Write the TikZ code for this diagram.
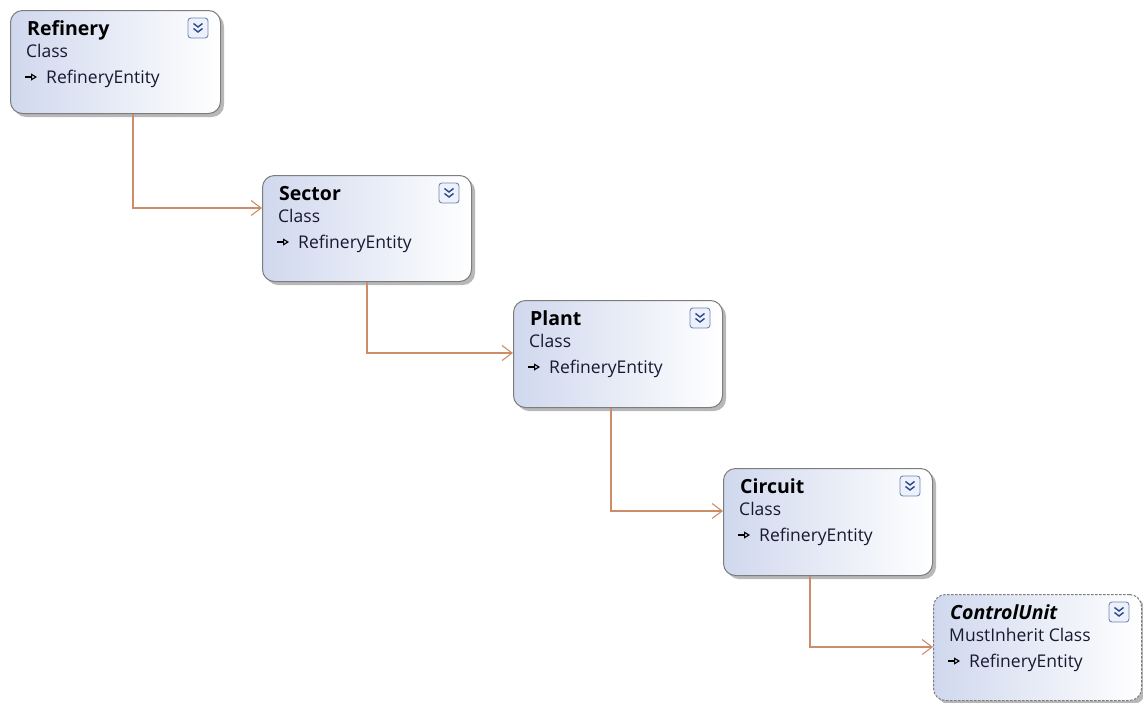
\documentclass[tikz,border=0pt]{standalone}
\usepackage{fontspec}
\setmainfont{Open Sans}
\usetikzlibrary{calc,shadows,arrows.meta}

\definecolor{boxleft}{RGB}{208,216,238}
\definecolor{boxborder}{RGB}{125,125,125}
\definecolor{linkcol}{RGB}{204,140,106}
\definecolor{iconedge}{RGB}{112,136,182}
\definecolor{iconfill}{RGB}{236,241,251}
\definecolor{chevroncol}{RGB}{45,72,140}
\definecolor{textcol}{RGB}{24,24,48}

\tikzset{
  classbox/.style={draw=boxborder, line width=1pt, rounded corners=12pt,
    left color=boxleft, right color=white, inner sep=0pt,
    drop shadow={shadow xshift=3.5pt, shadow yshift=-3.5pt, fill=black, opacity=0.28}},
  abstractbox/.style={classbox, dashed, dash pattern=on 2.5pt off 1.5pt},
  titletext/.style={anchor=base west, inner sep=0pt, font=\fontsize{19.5}{22}\selectfont\bfseries, text=black},
  kindtext/.style={anchor=base west, inner sep=0pt, font=\fontsize{17.5}{20}\selectfont, text=textcol},
  iconbox/.style={draw=iconedge, line width=0.9pt, fill=iconfill, rounded corners=3pt,
    minimum width=20pt, minimum height=20pt, inner sep=0pt},
  chevron/.style={draw=chevroncol, line width=1.4pt},
  baseglyph/.style={draw=black, line width=1.1pt, -{Triangle[open, length=6pt, width=7pt, line width=1.1pt]}},
  link/.style={draw=linkcol, line width=1.1pt, -{Straight Barb[length=10pt, width=15pt, line width=1.1pt]}}
}

% class shape: name, x, y (top left), width, height, title, kind, box style
\newcommand{\umlclass}[8]{%
  \node[#8, minimum width=#4pt, minimum height=#5pt, anchor=north west] (#1) at (#2,#3) {};
  \node[titletext] (#1-title) at ($(#1.north west)+(17,25)$) {#6};
  \node[kindtext] (#1-kind) at ($(#1.north west)+(16,47)$) {#7};
  \draw[baseglyph] ($(#1.north west)+(15,67)$) -- ++(12,0);
  \node[kindtext] (#1-base) at ($(#1.north west)+(36,73)$) {RefineryEntity};
  \node[iconbox] (#1-icon) at ($(#1.north east)+(-23,18)$) {};
  \draw[chevron] ($(#1-icon.center)+(-4.5,-4.5)$) -- ++(4.5,3.5) -- ++(4.5,-3.5);
  \draw[chevron] ($(#1-icon.center)+(-4.5,0.5)$) -- ++(4.5,3.5) -- ++(4.5,-3.5);
}

\begin{document}
\begin{tikzpicture}[x=1pt, y=-1pt]
  \useasboundingbox (0,0) rectangle (1143,702);

  \umlclass{refinery}{10}{10}{210}{103}{Refinery}{Class}{classbox}
  \umlclass{sector}{262}{175}{209}{106}{Sector}{Class}{classbox}
  \umlclass{plant}{513}{300}{209}{107}{Plant}{Class}{classbox}
  \umlclass{circuit}{723}{468}{209}{107}{Circuit}{Class}{classbox}
  \umlclass{controlunit}{933}{594}{208}{106}{\itshape ControlUnit}{MustInherit Class}{abstractbox}

  % association links
  \draw[link] ($(refinery.south west)+(123,0)$) |- ($(sector.north west)+(0,33)$);
  \draw[link] ($(sector.south west)+(105,0)$) |- ($(plant.north west)+(0,53)$);
  \draw[link] ($(plant.south west)+(98,0)$) |- ($(circuit.north west)+(0,43)$);
  \draw[link] ($(circuit.south west)+(87,0)$) |- ($(controlunit.north west)+(0,53)$);
\end{tikzpicture}
\end{document}
